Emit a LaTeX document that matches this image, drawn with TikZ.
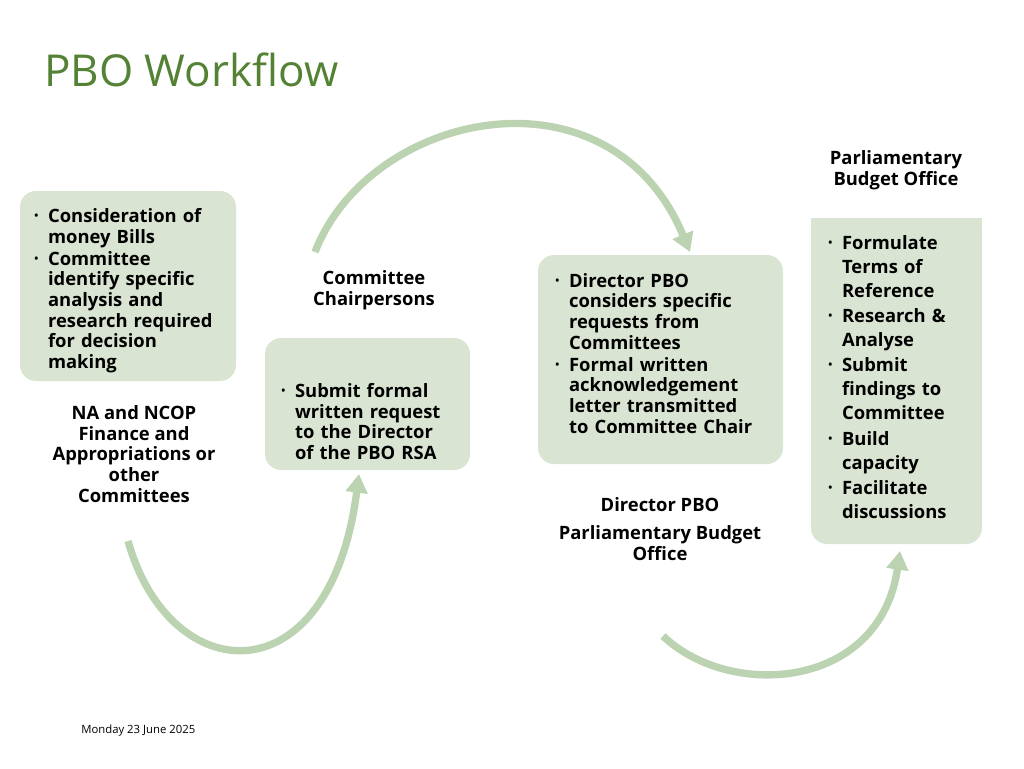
\documentclass[tikz,border=0pt]{standalone}
\usepackage{fontspec}
\setmainfont{Open Sans}
\usetikzlibrary{arrows.meta}
\definecolor{boxg}{HTML}{D9E5D2}
\definecolor{arcg}{HTML}{BBD3B1}
\definecolor{titg}{HTML}{548235}
\newcommand{\bl}[1]{\hyphenpenalty=10000\exhyphenpenalty=10000\hangindent=0.75em\hangafter=1\noindent\makebox[0.75em][l]{\raisebox{0.3ex}{\footnotesize\textbullet}}#1\par\vspace{1pt}}
\begin{document}
\begin{tikzpicture}[x=0.75pt,y=-0.75pt,
 box/.style={fill=boxg,rounded corners=12pt,draw=none},
 txt/.style={font=\bfseries\fontsize{13.8}{15.5}\selectfont,align=left,anchor=north west,inner sep=0pt},
 lab/.style={font=\bfseries\fontsize{13.8}{15.5}\selectfont,align=center,inner sep=0pt},
 arc/.style={draw=arcg,line width=5.5pt,-{Triangle[length=14pt,width=16pt]}}]
\useasboundingbox (0,0) rectangle (1024,768);
\node[anchor=west,text=titg,font=\fontsize{33}{38}\selectfont,inner sep=0pt] (title) at (44,70) {PBO Workflow};
% boxes
\path[box] (20,191) rectangle (236,381);
\path[box] (265,338) rectangle (470,470);
\path[box] (538,255) rectangle (783,464);
\path[fill=boxg,rounded corners=12pt] (811,218) -- (982,218) -- (982,544) -- (811,544) -- cycle;
\path[fill=boxg] (811,218) rectangle (982,240);
% texts
\node[txt,text width=142pt] (t1) at (34,208) {\bl{Consideration of money Bills}\bl{Committee identify specific analysis and research required for decision making}};
\node[txt,text width=130pt] (t2) at (281,383) {\bl{Submit formal written request to the Director of the PBO RSA}};
\node[txt,text width=152pt] (t3) at (555,273) {\bl{Director PBO considers specific requests from Committees}\bl{Formal written acknowledgement letter transmitted to Committee Chair}};
\node[txt,text width=100pt,font=\bfseries\fontsize{13.8}{18}\selectfont] (t4) at (828,235) {\bl{Formulate Terms of Reference}\bl{Research \& Analyse}\bl{Submit findings to Committee}\bl{Build capacity}\bl{Facilitate discussions}};
% labels
\node[lab] (l1) at (134,454) {NA and NCOP\\Finance and\\Appropriations or\\other\\Committees};
\node[lab] (l2) at (374,290) {Committee\\Chairpersons};
\node[lab] (l3) at (660,505) {Director PBO};
\node[lab] (l4) at (660,543) {Parliamentary Budget\\Office};
\node[lab] (l5) at (896,170) {Parliamentary\\Budget Office};
\node[anchor=west,font=\fontsize{8.5}{10}\selectfont,inner sep=0pt] (date) at (81,731) {Monday 23 June 2025};
% arcs
\coordinate (a1s) at (315,252); \coordinate (a1e) at (690,252);
\coordinate (a2s) at (128,541); \coordinate (a2e) at (359,474);
\coordinate (a3s) at (663,636); \coordinate (a3e) at (900,551);
\draw[arc] (a1s) .. controls (370,110) and (610,60) .. (a1e);
\draw[arc] (a2s) .. controls (170,690) and (330,700) .. (a2e);
\draw[arc] (a3s) .. controls (730,700) and (880,690) .. (a3e);
\end{tikzpicture}
\end{document}
